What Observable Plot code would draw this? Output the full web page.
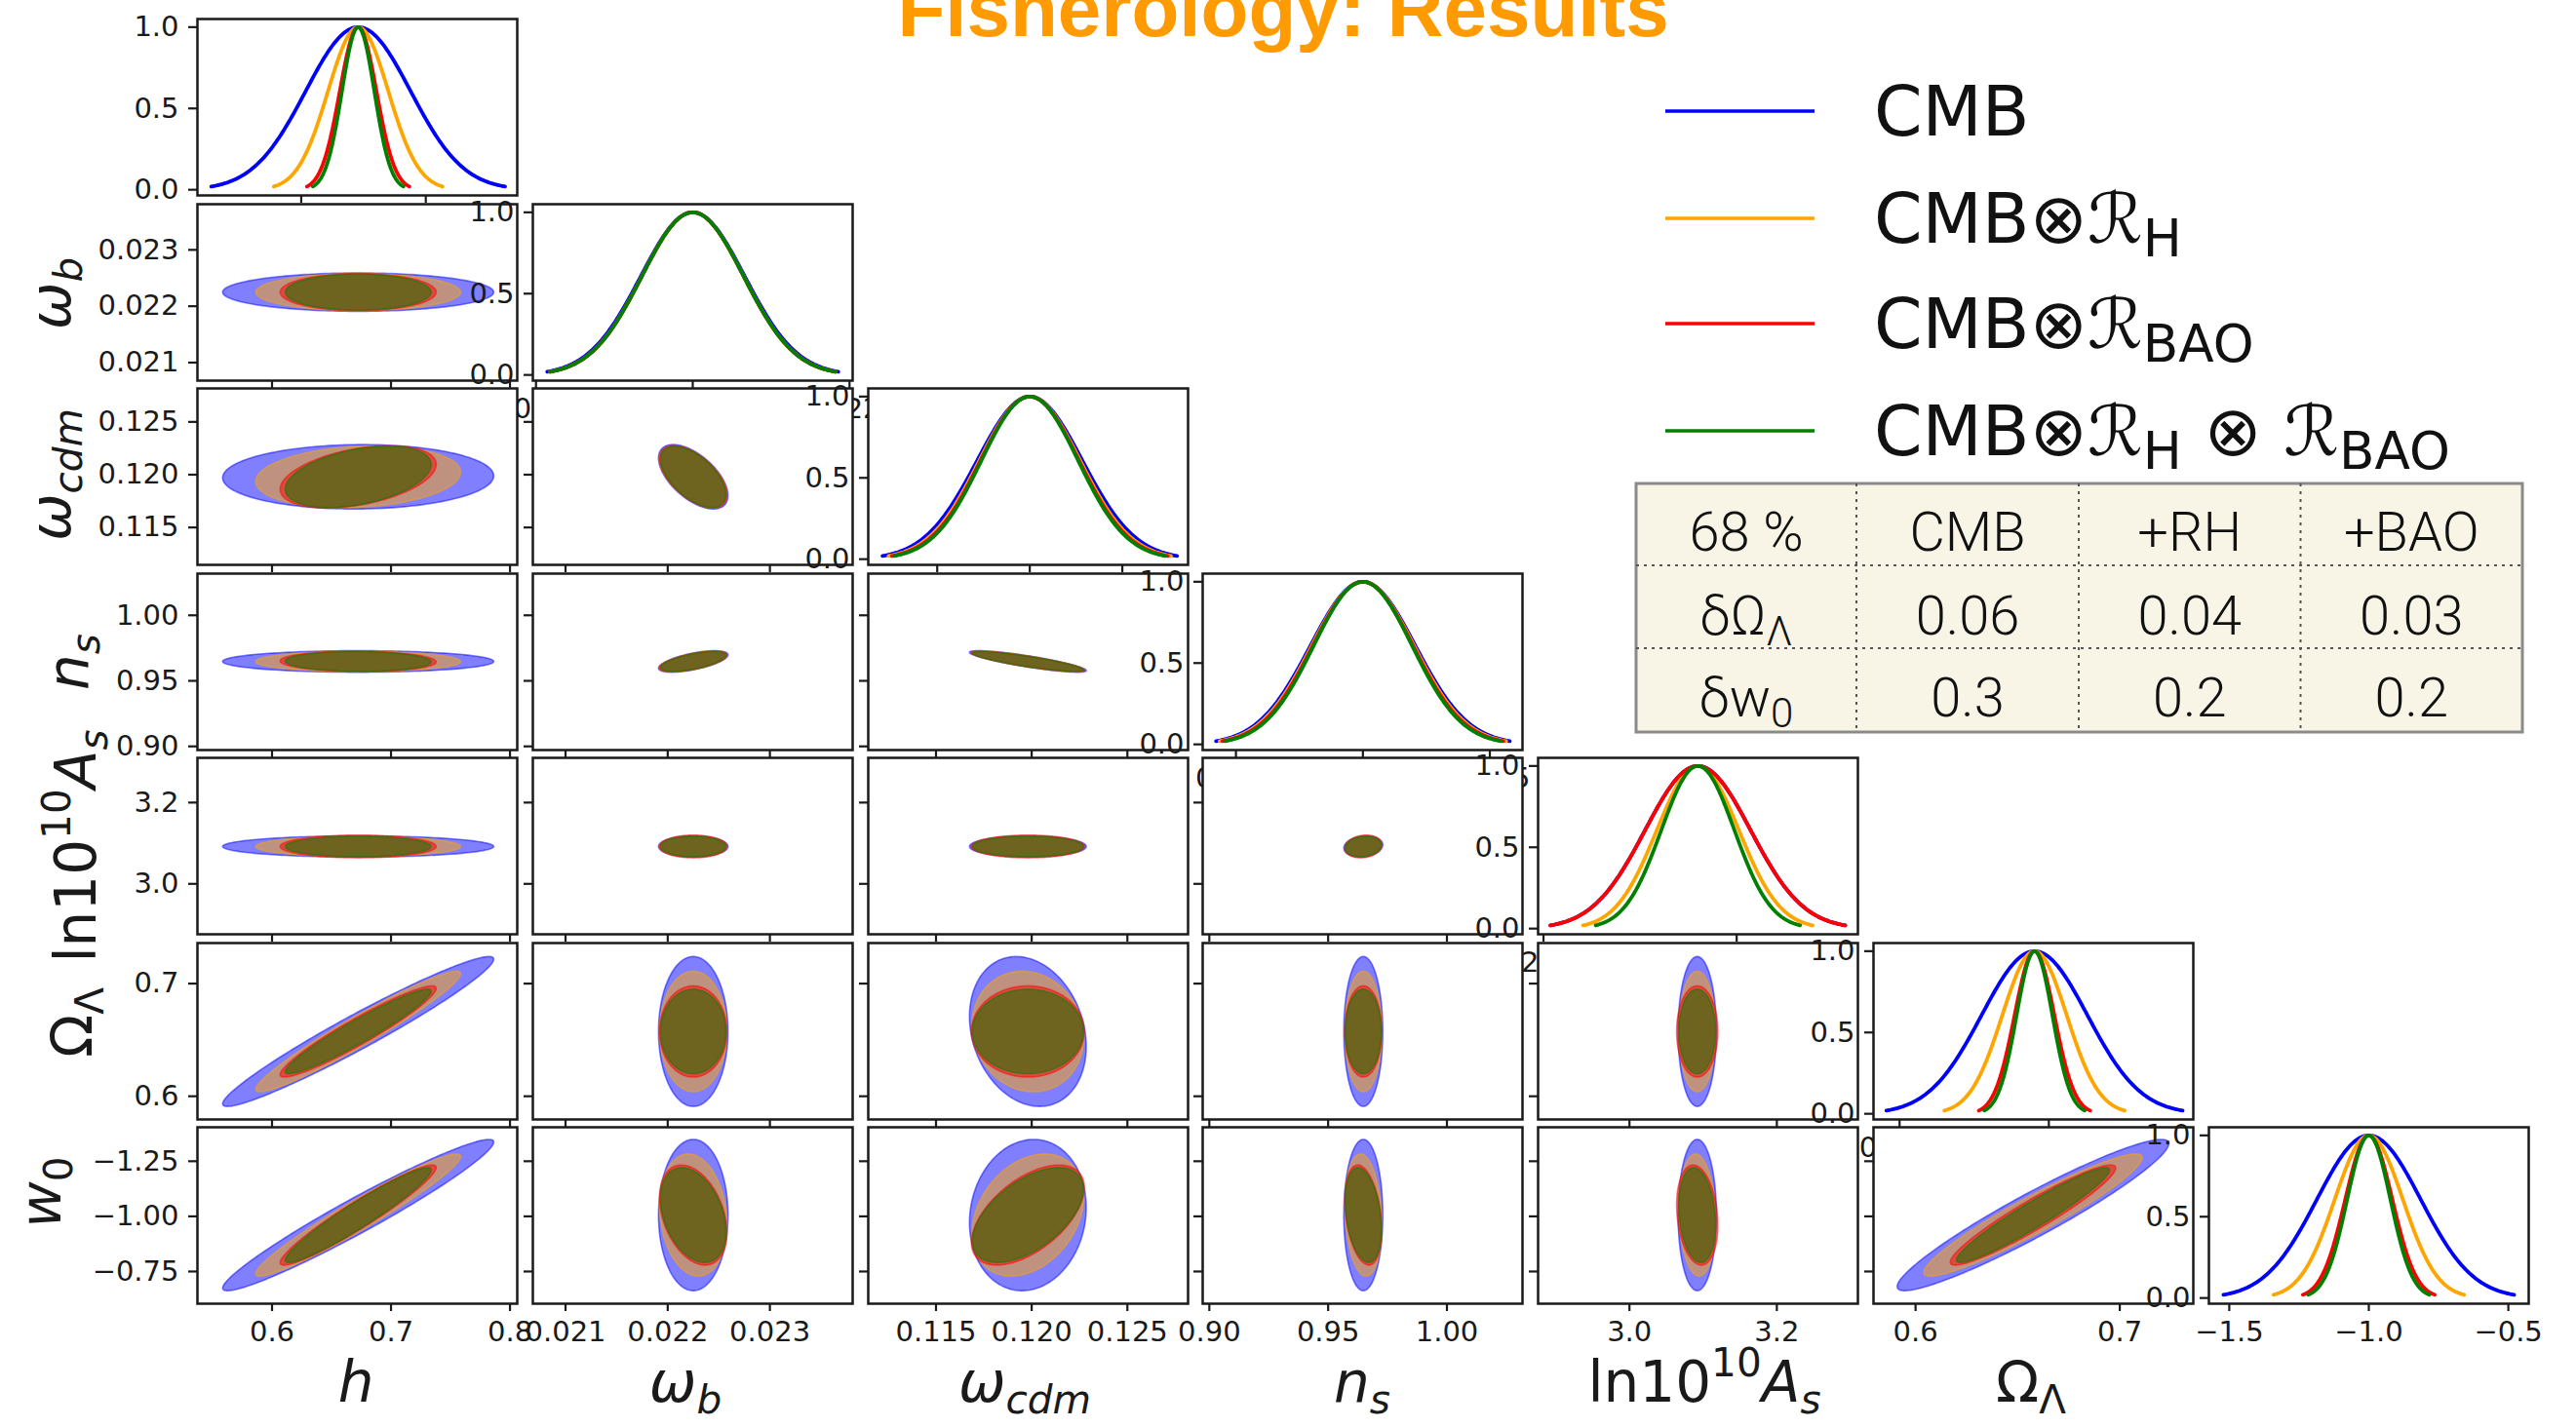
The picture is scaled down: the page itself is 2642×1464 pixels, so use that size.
<!DOCTYPE html>
<html>
<head>
<meta charset="utf-8">
<script src="https://cdn.jsdelivr.net/npm/d3@7"></script>
<script src="https://cdn.jsdelivr.net/npm/@observablehq/plot@0.6"></script>
<style>
  html, body { margin: 0; padding: 0; background: #fff; }
  #fig { position: relative; width: 2642px; height: 1464px; overflow: hidden; background: #fff; font-family: "DejaVu Sans", sans-serif; }
  .panel { position: absolute; }
  .panel svg { overflow: visible; }
  .panel svg g[aria-label$="axis tick"] path,
  .panel svg g[aria-label$="axis"] line { stroke-width: 2.2px; }
</style>
</head>
<body>
<div id="fig"></div>
<script>
// ===================== DATA =====================
const params = ["h", "ω_b", "ω_cdm", "n_s", "ln10^10 A_s", "Ω_Λ", "w_0"];
const datasets = ["CMB", "CMB⊗R_H", "CMB⊗R_BAO", "CMB⊗R_H⊗R_BAO"];
const datasetColors = ["#0000ff", "#ffa500", "#ff0000", "#008000"];

// axes of the 2D (off-diagonal) panels, per parameter
const axisMin = [0.5373, 0.02068, 0.11146, 0.8972, 2.876, 0.5794, -1.404];
const axisMax = [0.8061, 0.02381, 0.12817, 1.0318, 3.310, 0.7360, -0.604];
const axisTicks = [[0.6, 0.7, 0.8], [0.021, 0.022, 0.023], [0.115, 0.120, 0.125], [0.90, 0.95, 1.00], [3.0, 3.2], [0.6, 0.7], [-1.25, -1.00, -0.75]];
const axisFormat = [".1f", ".3f", ".3f", ".2f", ".1f", ".1f", ".2f"];
const axisReversed = [false, false, false, false, false, false, true];

// ellipse centres and half-extents (per dataset)
const ellipseCenter = [0.6724, 0.02225, 0.11980, 0.9648, 3.092, 0.6575, -1.006];
const extentCMB = [0.1139, 0.00034, 0.00305, 0.0082, 0.026, 0.0665, 0.343];
const extentRH  = [0.0861, 0.00033, 0.00292, 0.0078, 0.025, 0.0535, 0.277];
const extentBAO = [0.0656, 0.00033, 0.00295, 0.0078, 0.028, 0.0405, 0.227];
const extentAll = [0.0613, 0.00032, 0.00290, 0.0076, 0.025, 0.0375, 0.215];

// correlation coefficients for each pair (column parameter, row parameter)
const pairs = [[0,1],[0,2],[0,3],[0,4],[0,5],[0,6],[1,2],[1,3],[1,4],[1,5],[1,6],[2,3],[2,4],[2,5],[2,6],[3,4],[3,5],[3,6],[4,5],[4,6],[5,6]];
const corrCMB = [0, 0.03, 0, 0, 0.965, -0.965, -0.58, 0.62, 0, 0, 0, -0.85, 0, -0.2, -0.1, 0.15, 0, 0, 0, 0, -0.945];
const corrRH  = [0, 0.15, 0, 0, 0.96, -0.96, -0.58, 0.62, 0, 0, 0.15, -0.85, 0, -0.1, -0.3, 0.15, 0, 0.15, 0, 0.1, -0.94];
const corrBAO = [0, 0.40, -0.05, 0, 0.945, -0.95, -0.58, 0.62, 0, 0, 0.35, -0.85, 0, 0, -0.55, 0.15, 0, 0.3, 0, 0.2, -0.94];
const corrAll = [0, 0.40, -0.05, 0, 0.95, -0.95, -0.58, 0.62, 0, 0, 0.35, -0.85, 0, 0, -0.55, 0.15, 0, 0.3, 0, 0.2, -0.95];

// 1D marginal (diagonal) panels
const diagMin = [0.5167, 0.02149, 0.11651, 0.95238, 2.8944, 0.62063, -1.573];
const diagMax = [0.7734, 0.02251, 0.12342, 0.97757, 3.2255, 0.67420, -0.427];
const diagTicks = [[0.6, 0.7], [0.0215, 0.0220, 0.0225], [0.118, 0.120, 0.122], [0.955, 0.965, 0.975], [2.9, 3.1], [0.625, 0.650], [-1.5, -1.0, -0.5]];
const diagFormat = [".1f", ".4f", ".3f", ".3f", ".1f", ".3f", ".1f"];
const diagCenter = [0.6457, 0.0220, 0.1200, 0.9650, 3.0598, 0.6476, -1.0];
const sigmaCMB = [0.0421, 0.0001657, 0.001136, 0.00413, 0.0545, 0.00886, 0.186];
const sigmaRH  = [0.0242, 0.0001625, 0.001089, 0.00403, 0.0424, 0.00539, 0.122];
const sigmaBAO = [0.0147, 0.0001625, 0.001064, 0.00395, 0.0545, 0.00333, 0.0843];
const sigmaAll = [0.0130, 0.0001625, 0.001046, 0.00388, 0.0378, 0.00300, 0.0775];
const sigmaSpan = 2.8;
const diagYTicks = [0, 0.5, 1.0];

// summary table
const tableHeader = ["68 %", "CMB", "+RH", "+BAO"];
const tableRowOmega = ["0.06", "0.04", "0.03"];
const tableRowW0 = ["0.3", "0.2", "0.2"];

const titleText = "Fisherology: Results";

// ===================== LAYOUT =====================
const L0 = 202, DX = 343.8, T0 = 19, DY = 189.5, PW = 328, PH = 181;
const ML = 150, MR = 20, MT = 20, MB = 70;
const tickFont = "29px";
const ink = "#1a1a1a";

const extents = [extentCMB, extentRH, extentBAO, extentAll];
const corrs = [corrCMB, corrRH, corrBAO, corrAll];
const sigmas = [sigmaCMB, sigmaRH, sigmaBAO, sigmaAll];

function ellipsePts(c, r, k) {
  const p = pairs.findIndex(([a, b]) => a === c && b === r);
  const rho = corrs[k][p];
  const ax = extents[k][c], ay = extents[k][r];
  const mx = ellipseCenter[c], my = ellipseCenter[r];
  const s = Math.sqrt(1 - rho * rho);
  return d3.range(0, 200).map(i => {
    const t = i / 200 * 2 * Math.PI;
    return {x: mx + ax * Math.cos(t), y: my + ay * (rho * Math.cos(t) + s * Math.sin(t))};
  });
}
function gaussPts(c, k) {
  const mu = diagCenter[c], sd = sigmas[k][c];
  return d3.range(0, 201).map(i => {
    const x = mu + sd * sigmaSpan * (2 * i / 200 - 1);
    return {x, y: Math.exp(-0.5 * ((x - mu) / sd) ** 2)};
  });
}

const fig = document.getElementById("fig");
const blank = () => "";

for (let r = 0; r < 7; r++) {
  for (let c = 0; c <= r; c++) {
    const diag = r === c;
    const marks = [Plot.frame({fill: "white", stroke: "none"})];
    if (diag) {
      for (let k = 0; k < 4; k++) {
        marks.push(Plot.line(gaussPts(c, k), {x: "x", y: "y", stroke: datasetColors[k], strokeWidth: 3.8}));
      }
    } else {
      for (let k = 0; k < 4; k++) {
        marks.push(Plot.line(ellipsePts(c, r, k), {
          x: "x", y: "y", curve: "linear-closed",
          fill: datasetColors[k], fillOpacity: 0.5,
          stroke: datasetColors[k], strokeOpacity: 0.5, strokeWidth: 1.6
        }));
      }
    }
    marks.push(Plot.frame({stroke: ink, strokeWidth: 2.5}));
    const showX = diag || r === 6;
    const showY = diag || c === 0;
    const plot = Plot.plot({
      width: ML + PW + MR, height: MT + PH + MB,
      marginLeft: ML, marginRight: MR, marginTop: MT, marginBottom: MB,
      x: {
        domain: diag ? [diagMin[c], diagMax[c]] : [axisMin[c], axisMax[c]],
        ticks: diag ? diagTicks[c] : axisTicks[c],
        tickFormat: showX ? d3.format(diag ? diagFormat[c] : axisFormat[c]) : blank,
        tickSize: 8, tickPadding: 10, label: null
      },
      y: {
        domain: diag ? [-0.035, 1.05] : [axisMin[r], axisMax[r]],
        reverse: !diag && axisReversed[r],
        ticks: diag ? diagYTicks : axisTicks[r],
        tickFormat: showY ? d3.format(diag ? ".1f" : axisFormat[r]) : blank,
        tickSize: 9, tickPadding: 10, label: null
      },
      style: {background: "transparent", overflow: "visible", maxWidth: "none", fontFamily: "DejaVu Sans", fontSize: tickFont, color: ink},
      marks
    });
    const div = document.createElement("div");
    div.className = "panel";
    div.style.left = (L0 + c * DX - ML) + "px";
    div.style.top = (T0 + r * DY - MT) + "px";
    div.appendChild(plot);
    fig.appendChild(div);
  }
}

// ===================== TEXT OVERLAY =====================
const ov = d3.select(fig).append("svg")
  .attr("width", 2642).attr("height", 1464)
  .style("position", "absolute").style("left", "0").style("top", "0").style("overflow", "visible");

function rich(sel, parts, size, family) {
  const text = sel.append("text").attr("font-size", size).attr("font-family", family || "DejaVu Sans");
  let shift = 0;
  for (const p of parts) {
    const ts = text.append("tspan").text(p.t);
    if (p.it) ts.attr("font-style", "italic");
    const target = p.sub ? 0.2 * size : p.sup ? -0.45 * size : 0;
    if (target !== shift) ts.attr("dy", target - shift);
    shift = target;
    if (p.sub || p.sup) ts.attr("font-size", size * (p.scale || 0.7));
  }
  return text;
}

// Title
ov.append("text").attr("x", 1316).attr("y", 37).attr("text-anchor", "middle")
  .attr("font-family", "Liberation Sans").attr("font-weight", "bold").attr("font-size", 80)
  .attr("fill", "#ff9a00").text(titleText);

// axis labels
const labelParts = [
  [{t: "h", it: 1}],
  [{t: "ω", it: 1}, {t: "b", it: 1, sub: 1}],
  [{t: "ω", it: 1}, {t: "cdm", it: 1, sub: 1}],
  [{t: "n", it: 1}, {t: "s", it: 1, sub: 1}],
  [{t: "ln10"}, {t: "10", sup: 1}, {t: "A", it: 1}, {t: "s", it: 1, sub: 1}],
  [{t: "Ω"}, {t: "Λ", sub: 1}],
  [{t: "w", it: 1}, {t: "0", sub: 1}]
];
const labelSize = 58;
const xLabelX = [365, 703, 1051, 1397, 1748, 2083];
xLabelX.forEach((x, i) => {
  rich(ov.append("g").attr("transform", `translate(${x},1438)`), labelParts[i], labelSize)
    .attr("text-anchor", "middle").attr("fill", ink);
});
const yLabelPos = [null, [72, 301], [72, 487], [90, 679], [98, 868], [94, 1049], [62, 1223]];
yLabelPos.forEach((p, i) => {
  if (!p) return;
  rich(ov.append("g").attr("transform", `translate(${p[0]},${p[1]}) rotate(-90)`), labelParts[i], labelSize)
    .attr("text-anchor", "middle").attr("fill", ink);
});

// Legend
const legendParts = [
  [{t: "CMB"}],
  [{t: "CMB⊗ℛ"}, {t: "H", sub: 1, scale: 0.75}],
  [{t: "CMB⊗ℛ"}, {t: "BAO", sub: 1, scale: 0.75}],
  [{t: "CMB⊗ℛ"}, {t: "H", sub: 1, scale: 0.75}, {t: " ⊗ ℛ"}, {t: "BAO", sub: 1, scale: 0.75}]
];
const legendY = [114, 224, 332, 442];
datasets.forEach((d, i) => {
  ov.append("line").attr("x1", 1708).attr("x2", 1861).attr("y1", legendY[i]).attr("y2", legendY[i])
    .attr("stroke", datasetColors[i]).attr("stroke-width", 3.5);
  rich(ov.append("g").attr("transform", `translate(1922,${legendY[i] + 25})`), legendParts[i], 71)
    .attr("fill", "#111");
});

// Table
const tx = [1678, 1904, 2132, 2359.5, 2587];
const ty = [496, 580, 665, 751];
const tg = ov.append("g");
tg.append("rect").attr("x", tx[0]).attr("y", ty[0]).attr("width", tx[4] - tx[0]).attr("height", ty[3] - ty[0])
  .attr("fill", "#f8f5e7").attr("stroke", "#8a8a8a").attr("stroke-width", 3);
[1, 2].forEach(i => tg.append("line").attr("x1", tx[0]).attr("x2", tx[4]).attr("y1", ty[i]).attr("y2", ty[i])
  .attr("stroke", "#555").attr("stroke-width", 2).attr("stroke-dasharray", "3 5"));
[1, 2, 3].forEach(i => tg.append("line").attr("x1", tx[i]).attr("x2", tx[i]).attr("y1", ty[0]).attr("y2", ty[3])
  .attr("stroke", "#555").attr("stroke-width", 2).attr("stroke-dasharray", "3 5"));
const tableFont = "Roboto";
const rowsParts = [
  tableHeader.map(t => [{t}]),
  [[{t: "δΩ"}, {t: "Λ", sub: 1, scale: 0.75}], ...tableRowOmega.map(t => [{t}])],
  [[{t: "δw"}, {t: "0", sub: 1, scale: 0.75}], ...tableRowW0.map(t => [{t}])]
];
const rowBase = [565, 651, 735];
rowsParts.forEach((row, ri) => {
  row.forEach((parts, ci) => {
    const cx = (tx[ci] + tx[ci + 1]) / 2;
    rich(tg.append("g").attr("transform", `translate(${cx},${rowBase[ri]})`), parts, 56, tableFont)
      .attr("text-anchor", "middle").attr("font-weight", 300).attr("fill", "#111");
  });
});
</script>
</body>
</html>
